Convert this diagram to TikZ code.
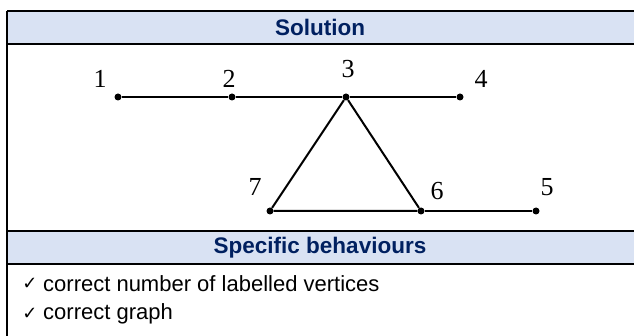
\documentclass[tikz,border=0pt]{standalone}
\usepackage{fontspec}
\setmainfont{Liberation Sans}
\newfontfamily\numfont{Liberation Serif}
\newfontfamily\symfont{DejaVu Sans}
\definecolor{headfill}{HTML}{D9E2F3}
\definecolor{headtext}{HTML}{002060}
\tikzset{
  vertex/.style={circle,fill=black,inner sep=0pt,minimum size=7pt},
  vlabel/.style={font=\numfont\fontsize{26}{30}\selectfont,inner sep=0pt},
  edge/.style={line width=2pt},
  headtxt/.style={font=\bfseries\fontsize{22.5}{27}\selectfont,text=headtext},
  rowtxt/.style={font=\fontsize{22}{26}\selectfont,anchor=west,inner sep=0pt},
  tick/.style={font=\symfont\fontsize{18}{22}\selectfont,inner sep=0pt}
}
\begin{document}
\begin{tikzpicture}[x=1pt,y=-1pt]
  \useasboundingbox (0,0) rectangle (634,336);
  % table bands and rules
  \fill[headfill] (7,11) rectangle (634,44);
  \fill[headfill] (7,231) rectangle (634,264);
  \draw[line width=1.8pt] (7,11)--(634,11) (7,44)--(634,44) (7,231)--(634,231) (7,264)--(634,264);
  \draw[line width=1.8pt] (7,11)--(7,336);
  \node[headtxt] (sol) at (320,27.5) {Solution};
  \node[headtxt] (spec) at (320,247.5) {Specific behaviours};
  % graph
  \node[vertex] (v1) at (118,97) {};
  \node[vertex] (v2) at (232,97) {};
  \node[vertex] (v3) at (346,97) {};
  \node[vertex] (v4) at (460,97) {};
  \node[vertex] (v5) at (536,211) {};
  \node[vertex] (v6) at (421,211) {};
  \node[vertex] (v7) at (270,211) {};
  \node[vlabel] (l1) at (100,79) {1};
  \node[vlabel] (l2) at (229,79) {2};
  \node[vlabel] (l3) at (348,69) {3};
  \node[vlabel] (l4) at (481,79) {4};
  \node[vlabel] (l5) at (547,187) {5};
  \node[vlabel] (l6) at (437,191) {6};
  \node[vlabel] (l7) at (255,187) {7};
  \draw[edge] (v1)--(v2)--(v3)--(v4);
  \draw[edge] (v3)--(v7)--(v6)--(v3);
  \draw[edge] (v6)--(v5);
  % criteria
  \node[tick] (t1) at (30,284) {✓};
  \node[rowtxt] (r1) at (43,284) {correct number of labelled vertices};
  \node[tick] (t2) at (30,314) {✓};
  \node[rowtxt] (r2) at (43,314) {correct graph};
\end{tikzpicture}
\end{document}
